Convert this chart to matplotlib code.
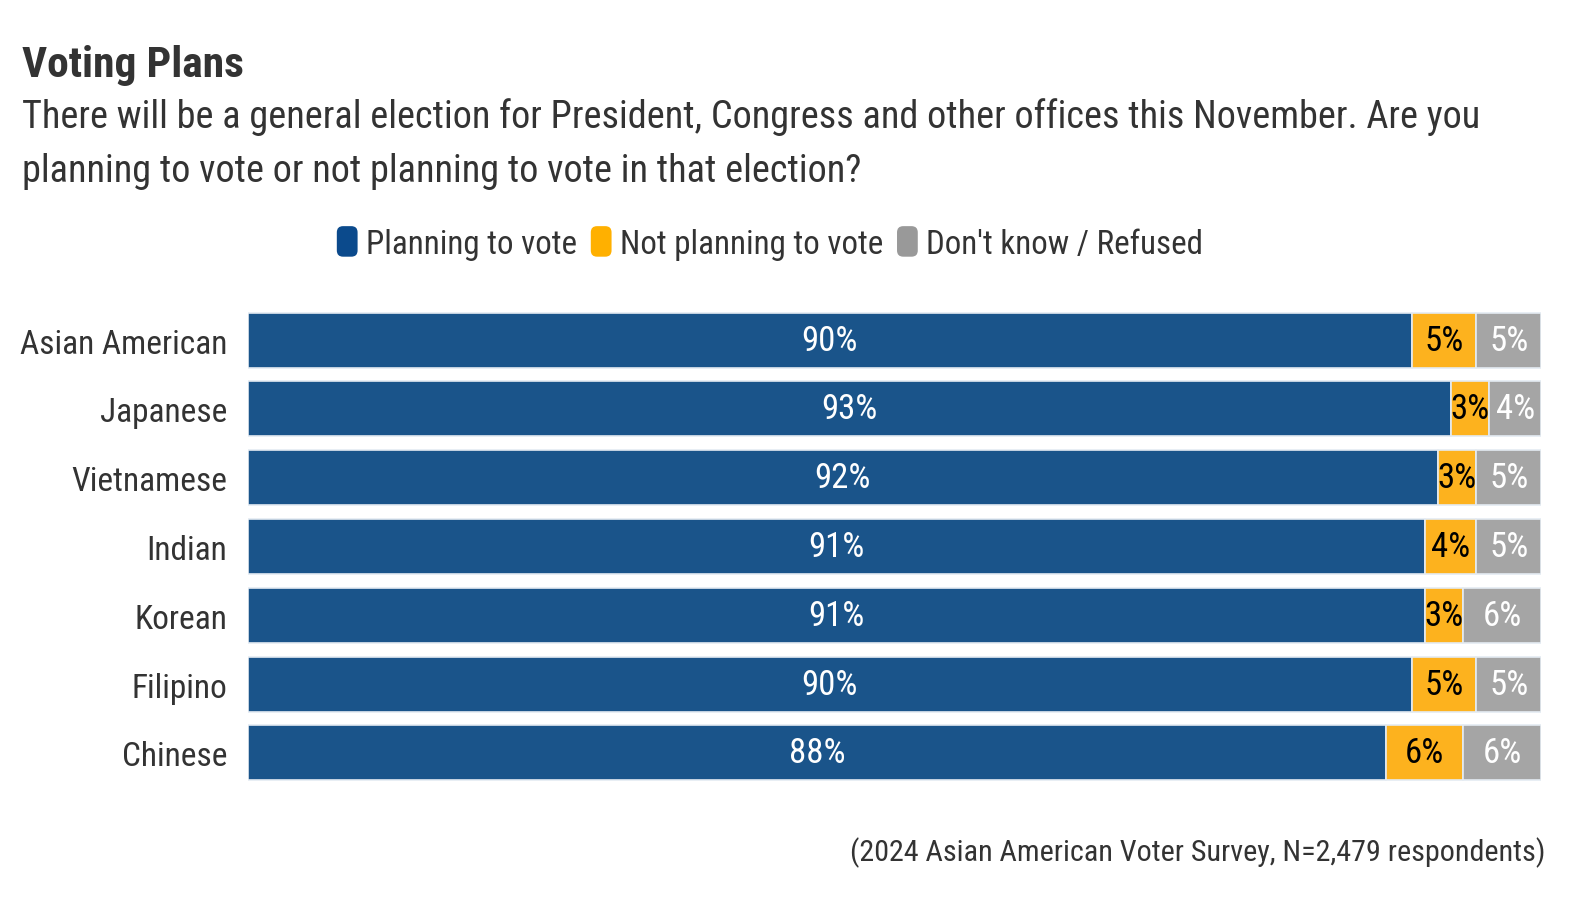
import matplotlib
matplotlib.use("Agg")
import matplotlib.pyplot as plt
from matplotlib.patches import Patch, FancyBboxPatch
from matplotlib.legend_handler import HandlerPatch
import numpy as np

plt.rcParams['font.family'] = ['Roboto Condensed', 'Roboto', 'DejaVu Sans']

# data
groups = ['Asian American', 'Japanese', 'Vietnamese', 'Indian', 'Korean', 'Filipino', 'Chinese']
planning = [90, 93, 92, 91, 91, 90, 88]
not_planning = [5, 3, 3, 4, 3, 5, 6]
dont_know = [5, 4, 5, 5, 6, 5, 6]
series_names = ['Planning to vote', 'Not planning to vote', "Don't know / Refused"]

bar_colors = ['#1a548a', '#fdb21e', '#a5a5a5']
legend_colors = ['#0b4a8c', '#ffb000', '#999999']
text_colors = ['white', 'black', 'white']
dark = '#333333'


class RoundBox(HandlerPatch):
    # rounded, upright legend key
    def create_artists(self, legend, orig, xdescent, ydescent, width, height, fontsize, trans):
        h = height * 1.32
        w = h * 0.68
        p = FancyBboxPatch((width - w, -ydescent + (height - h) / 2), w, h,
                           boxstyle='round,pad=0,rounding_size=%f' % (w * 0.3),
                           facecolor=orig.get_facecolor(), edgecolor='none',
                           transform=trans)
        return [p]


fig = plt.figure(figsize=(15.92, 9.04), dpi=100)
ax = fig.add_axes([0.1558, 0.1279, 0.8122, 0.5329])

y = np.arange(len(groups))
left = np.zeros(len(groups))
for vals, col, tcol in zip([planning, not_planning, dont_know], bar_colors, text_colors):
    vals = np.array(vals, dtype=float)
    ax.barh(y, vals, left=left, height=0.8, color=col, edgecolor='#e4ebf2', linewidth=1.2)
    for yi, l, v in zip(y, left, vals):
        ax.text(l + v / 2, yi, '%d%%' % v, ha='center', va='center',
                color=tcol, fontsize=25)
    left += vals

ax.set_xlim(0, left.max())
ax.set_ylim(len(groups) - 0.5, -0.5)
ax.set_yticks(y)
ax.set_yticklabels(groups, fontsize=24, color=dark)
ax.tick_params(axis='y', length=0, pad=15)
ax.set_xticks([])
for s in ax.spines.values():
    s.set_visible(False)

fig.text(0.0138, 0.915, 'Voting Plans', fontsize=31.3, fontweight='bold', color=dark)
fig.text(0.0138, 0.7987,
         'There will be a general election for President, Congress and other offices this November. Are you\n'
         'planning to vote or not planning to vote in that election?',
         fontsize=27.5, color=dark, linespacing=1.58)

handles = [Patch(facecolor=c) for c in legend_colors]
fig.legend(handles, series_names, loc='center', bbox_to_anchor=(0.4834, 0.729),
           ncol=3, frameon=False, fontsize=23.8, handletextpad=0.25, columnspacing=0.4,
           handlelength=0.65, handler_map={Patch: RoundBox()}, labelcolor=dark)

fig.text(0.971, 0.047, '(2024 Asian American Voter Survey, N=2,479 respondents)',
         ha='right', fontsize=21.7, color=dark)

fig.savefig('out.png', dpi=100, facecolor='white')
